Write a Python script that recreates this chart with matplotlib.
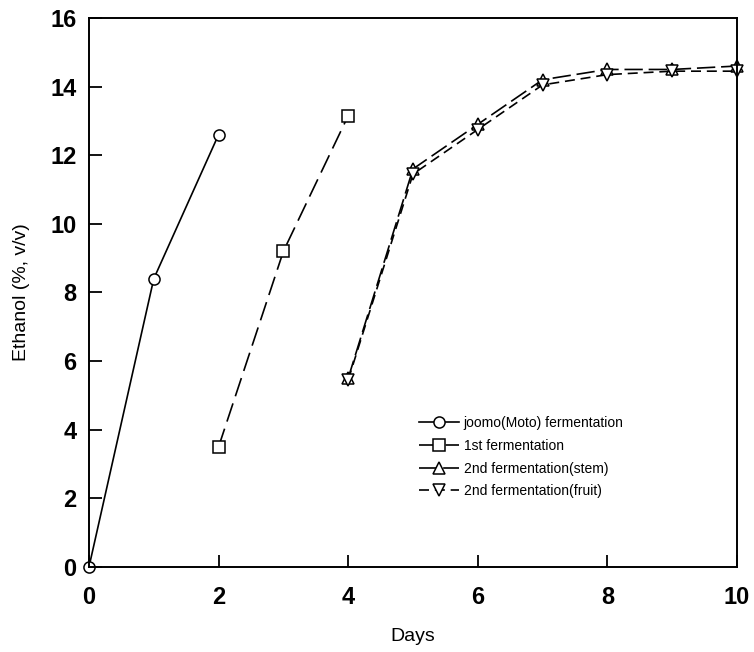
import matplotlib.pyplot as plt
import numpy as np

# days for each series
days_moto = [0, 1, 2]
days_first = [2, 3, 4]
days_second = [4, 5, 6, 7, 8, 9, 10]

# ethanol (%, v/v)
ethanol_moto = [0.0, 8.4, 12.6]
ethanol_first = [3.5, 9.2, 13.15]
ethanol_stem = [5.5, 11.6, 12.9, 14.2, 14.5, 14.5, 14.6]
ethanol_fruit = [5.45, 11.45, 12.75, 14.05, 14.35, 14.45, 14.45]

labels = ['joomo(Moto) fermentation', '1st fermentation',
          '2nd fermentation(stem)', '2nd fermentation(fruit)']

plt.rcParams['font.family'] = ['Liberation Sans', 'DejaVu Sans']

fig = plt.figure(figsize=(7.54, 6.52), dpi=100)
ax = fig.add_axes([0.118, 0.1304, 0.8594, 0.842])

mk = dict(markersize=8, markerfacecolor='white', markeredgecolor='black',
          markeredgewidth=1.1, color='black', linewidth=1.2, clip_on=False)

ax.plot(days_moto, ethanol_moto, marker='o', linestyle='-', label=labels[0], **mk)
ax.plot(days_first, ethanol_first, marker='s', linestyle=(0, (11.5, 4.5)), label=labels[1], **mk)
ax.plot(days_second, ethanol_stem, marker='^', linestyle=(0, (11, 3.5)), label=labels[2], **mk)
ax.plot(days_second, ethanol_fruit, marker='v', linestyle=(0, (6, 3.5)), label=labels[3], **mk)

ax.set_xlim(0, 10)
ax.set_ylim(0, 16)
ax.set_xticks(np.arange(0, 11, 2))
ax.set_yticks(np.arange(0, 17, 2))
ax.tick_params(direction='in', length=9, width=1.3, labelsize=17)
ax.tick_params(axis='x', pad=14)
ax.tick_params(axis='y', pad=9)
for t in ax.get_xticklabels() + ax.get_yticklabels():
    t.set_fontweight('bold')
for s in ax.spines.values():
    s.set_linewidth(1.4)

ax.set_xlabel('Days', fontsize=14)
ax.set_ylabel('Ethanol (%, v/v)', fontsize=14)
ax.xaxis.set_label_coords(0.5, -0.112)
ax.yaxis.set_label_coords(-0.091, 0.5)

ax.legend(loc='upper left', bbox_to_anchor=(0.548, 0.370), bbox_transform=fig.transFigure,
          frameon=False, fontsize=10, handlelength=2.9, handletextpad=0.35,
          labelspacing=0.62, borderaxespad=0)

fig.savefig('out.png', dpi=100)
